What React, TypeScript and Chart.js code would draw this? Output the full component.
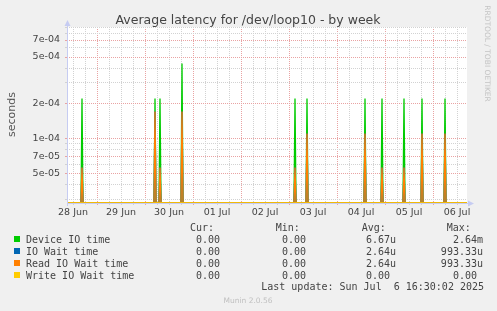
import React, { useEffect, useRef } from "react";
import { Chart, registerables } from "chart.js";

Chart.register(...registerables);

// ---- time axis (hours since 28 Jun 00:00) ----
const X_MIN_H = 9; // 28 Jun 09:00
const X_MAX_H = 209; // 06 Jul 17:00
const DAY_LABELS = ["28 Jun", "29 Jun", "30 Jun", "01 Jul", "02 Jul", "03 Jul", "04 Jul", "05 Jul", "06 Jul"];

// ---- value axis (log) ----
const Y_MIN = 2.78e-5;
const Y_MAX = 9.06e-4;
const Y_GRID_VALUES = [3e-5, 4e-5, 5e-5, 6e-5, 7e-5, 8e-5, 9e-5, 1e-4, 2e-4, 3e-4, 4e-4, 5e-4, 6e-4, 7e-4, 8e-4, 9e-4];
const Y_LABEL_VALUES = [5e-5, 7e-5, 1e-4, 2e-4, 5e-4, 7e-4];
const Y_LABELS = ["5e-05", "7e-05", "1e-04", "2e-04", "5e-04", "7e-04"];

// ---- series: hours of activity and values (all other samples are 0) ----
const SAMPLE_STEP_H = 0.5;
const SPIKE_HOURS = [16.5, 53, 55.5, 66.5, 123, 129, 158, 166.5, 177.5, 186.5, 198];
const DEVICE_IO_TIME = [2.2e-4, 2.2e-4, 2.2e-4, 4.4e-4, 2.2e-4, 2.2e-4, 2.2e-4, 2.2e-4, 2.2e-4, 2.2e-4, 2.2e-4];
const IO_WAIT_TIME = [5.6e-5, 1.7e-4, 5.6e-5, 1.7e-4, 5.6e-5, 1.1e-4, 1.1e-4, 5.6e-5, 5.6e-5, 1.1e-4, 1.1e-4];
const READ_IO_WAIT_TIME = [5.6e-5, 1.7e-4, 5.6e-5, 1.7e-4, 5.6e-5, 1.1e-4, 1.1e-4, 5.6e-5, 5.6e-5, 1.1e-4, 1.1e-4];
const WRITE_IO_WAIT_TIME = [0, 0, 0, 0, 0, 0, 0, 0, 0, 0, 0];

// ---- legend table ----
const SERIES_NAMES = ["Device IO time", "IO Wait time", "Read IO Wait time", "Write IO Wait time"];
const SERIES_COLORS = ["#00CC00", "#0066B3", "#FF8000", "#FFCC00"];
const CUR_VALUES = ["0.00 ", "0.00 ", "0.00 ", "0.00 "];
const MIN_VALUES = ["0.00 ", "0.00 ", "0.00 ", "0.00 "];
const AVG_VALUES = ["6.67u", "2.64u", "2.64u", "0.00 "];
const MAX_VALUES = ["2.64m", "993.33u", "993.33u", "0.00 "];
const COLUMN_HEADERS = ["Cur:", "Min:", "Avg:", "Max:"];

const TITLE = "Average latency for /dev/loop10 - by week";
const Y_TITLE = "seconds";
const LAST_UPDATE = "Last update: Sun Jul  6 16:30:02 2025";
const FOOTER = "Munin 2.0.56";
const WATERMARK = "RRDTOOL / TOBI OETIKER";

const MAJOR_GRID = "#e9a3a3";
const MINOR_GRID = "#d2d2d2";
const AXIS_COLOR = "#c6ccf2";
const TEXT_COLOR = "#444444";

function buildSeries(values: number[]) {
  const pts: { x: number; y: number }[] = [{ x: X_MIN_H, y: 0 }];
  SPIKE_HOURS.forEach((h, i) => {
    pts.push({ x: h - SAMPLE_STEP_H, y: 0 }, { x: h, y: values[i] }, { x: h + SAMPLE_STEP_H, y: 0 });
  });
  pts.push({ x: X_MAX_H, y: 0 });
  // like rrdtool, zero values on a log scale sit on the floor of the axis
  return pts.map((p) => ({ x: p.x, y: Math.max(p.y, Y_MIN) }));
}

function isLabelled(v: number) {
  return Y_LABEL_VALUES.findIndex((lv) => Math.abs(v - lv) / lv < 1e-6);
}

const decorPlugin = {
  id: "decor",
  beforeDraw(chart: any) {
    const { ctx, chartArea: a } = chart;
    ctx.save();
    ctx.fillStyle = "#F0F0F0";
    ctx.fillRect(0, 0, chart.width, chart.height);
    ctx.fillStyle = "#FFFFFF";
    ctx.fillRect(a.left, a.top, a.right - a.left, a.bottom - a.top);
    ctx.restore();
  },
  afterDraw(chart: any) {
    const { ctx, chartArea: a } = chart;
    ctx.save();
    // axes with arrows
    const lx = Math.round(a.left) + 0.5;
    const by = Math.round(a.bottom) + 0.5;
    ctx.strokeStyle = AXIS_COLOR;
    ctx.fillStyle = AXIS_COLOR;
    ctx.lineWidth = 1;
    ctx.beginPath();
    ctx.moveTo(lx, a.bottom + 3);
    ctx.lineTo(lx, a.top - 2);
    ctx.moveTo(a.right, by);
    ctx.lineTo(a.right + 2, by);
    ctx.stroke();
    ctx.beginPath();
    ctx.moveTo(lx, a.top - 7);
    ctx.lineTo(lx - 3, a.top - 1);
    ctx.lineTo(lx + 3, a.top - 1);
    ctx.closePath();
    ctx.fill();
    ctx.beginPath();
    ctx.moveTo(a.right + 7, by);
    ctx.lineTo(a.right + 1, by - 3);
    ctx.lineTo(a.right + 1, by + 3);
    ctx.closePath();
    ctx.fill();

    // title
    ctx.fillStyle = TEXT_COLOR;
    ctx.font = '12.5px "DejaVu Sans"';
    ctx.textAlign = "center";
    ctx.textBaseline = "alphabetic";
    ctx.fillText(TITLE, 248, 23.5);

    // y title
    ctx.save();
    ctx.translate(15, 114.5);
    ctx.rotate(-Math.PI / 2);
    ctx.font = '11px "DejaVu Sans"';
    ctx.fillStyle = "#555555";
    ctx.fillText(Y_TITLE, 0, 0);
    ctx.restore();

    // watermark
    ctx.save();
    ctx.translate(484.5, 53.5);
    ctx.rotate(Math.PI / 2);
    ctx.font = '7.5px "DejaVu Sans"';
    ctx.fillStyle = "#c4c4c4";
    ctx.textAlign = "center";
    ctx.fillText(WATERMARK, 0, 0);
    ctx.restore();

    // legend
    ctx.font = '10px "DejaVu Sans Mono"';
    ctx.fillStyle = TEXT_COLOR;
    ctx.textAlign = "left";
    const headerX = [190, 275.7, 361.7, 446.7];
    COLUMN_HEADERS.forEach((h, i) => ctx.fillText(h, headerX[i], 231));
    const colRight = [226, 312, 396, 483];
    SERIES_NAMES.forEach((name, i) => {
      const base = 243 + i * 12;
      ctx.fillStyle = SERIES_COLORS[i];
      ctx.fillRect(14, base - 7, 6, 6);
      ctx.fillStyle = TEXT_COLOR;
      ctx.textAlign = "left";
      ctx.fillText(name, 26, base);
      ctx.textAlign = "right";
      ctx.fillText(CUR_VALUES[i], colRight[0], base);
      ctx.fillText(MIN_VALUES[i], colRight[1], base);
      ctx.fillText(AVG_VALUES[i], colRight[2], base);
      ctx.fillText(MAX_VALUES[i], colRight[3], base);
    });
    ctx.textAlign = "right";
    ctx.fillText(LAST_UPDATE, 484, 290);

    ctx.font = '7.5px "DejaVu Sans"';
    ctx.fillStyle = "#c0c0c0";
    ctx.textAlign = "center";
    ctx.fillText(FOOTER, 248, 303);
    ctx.restore();
  },
};

export default function App() {
  const ref = useRef<HTMLCanvasElement>(null);

  useEffect(() => {
    if (!ref.current) return;
    const seriesValues = [DEVICE_IO_TIME, IO_WAIT_TIME, READ_IO_WAIT_TIME, WRITE_IO_WAIT_TIME];
    const chart = new Chart(ref.current, {
      type: "line",
      data: {
        datasets: SERIES_NAMES.map((name, i) => ({
          label: name,
          data: buildSeries(seriesValues[i]),
          borderColor: SERIES_COLORS[i],
          backgroundColor: SERIES_COLORS[i],
          borderWidth: 1.3,
          pointRadius: 0,
          tension: 0,
          fill: false,
          order: SERIES_NAMES.length - 1 - i,
        })),
      },
      options: {
        animation: false,
        responsive: false,
        events: [],
        layout: { padding: { top: 27, right: 30, bottom: 88, left: 0 } },
        plugins: {
          legend: { display: false },
          title: { display: false },
          tooltip: { enabled: false },
        },
        scales: {
          x: {
            type: "linear",
            min: X_MIN_H,
            max: X_MAX_H,
            bounds: "data",
            afterFit: (s: any) => {
              s.height = 20;
            },
            afterBuildTicks: (s: any) => {
              const t: { value: number }[] = [];
              for (let h = 12; h < X_MAX_H; h += 6) t.push({ value: h });
              s.ticks = t;
            },
            ticks: {
              autoSkip: false,
              maxRotation: 0,
              minRotation: 0,
              padding: 2,
              color: TEXT_COLOR,
              font: { family: "DejaVu Sans", size: 9.5 },
              callback: (v: any) => {
                const n = Number(v);
                if (n % 24 !== 12) return "";
                return DAY_LABELS[(n - 12) / 24] ?? "";
              },
            },
            grid: {
              color: (c: any) => (c.tick && c.tick.value % 24 === 0 ? MAJOR_GRID : MINOR_GRID),
              tickColor: (c: any) => (c.tick && c.tick.value % 24 === 0 ? MAJOR_GRID : MINOR_GRID),
              tickLength: 2,
              drawTicks: true,
              lineWidth: 1,
            },
            border: { display: true, color: AXIS_COLOR, dash: [1, 1] },
          },
          y: {
            type: "logarithmic",
            min: Y_MIN,
            max: Y_MAX,
            bounds: "data",
            afterFit: (s: any) => {
              s.width = 67;
            },
            afterBuildTicks: (s: any) => {
              s.ticks = Y_GRID_VALUES.map((v) => ({ value: v, major: false }));
            },
            ticks: {
              autoSkip: false,
              padding: 5,
              color: TEXT_COLOR,
              font: { family: "DejaVu Sans", size: 9.5 },
              callback: (v: any) => {
                const idx = isLabelled(Number(v));
                return idx >= 0 ? Y_LABELS[idx] : "";
              },
            },
            grid: {
              color: (c: any) => (c.tick && isLabelled(c.tick.value) >= 0 ? MAJOR_GRID : MINOR_GRID),
              tickColor: (c: any) => (c.tick && isLabelled(c.tick.value) >= 0 ? MAJOR_GRID : MINOR_GRID),
              tickLength: 2,
              drawTicks: true,
              lineWidth: 1,
            },
            border: { display: false, dash: [1, 1] },
          },
        },
      },
      plugins: [decorPlugin],
    } as any);
    return () => chart.destroy();
  }, []);

  return (
    <div style={{ position: "absolute", left: 0, top: 0, width: 497, height: 311 }}>
      <canvas ref={ref} width={497} height={311} style={{ display: "block", width: 497, height: 311 }} />
    </div>
  );
}
